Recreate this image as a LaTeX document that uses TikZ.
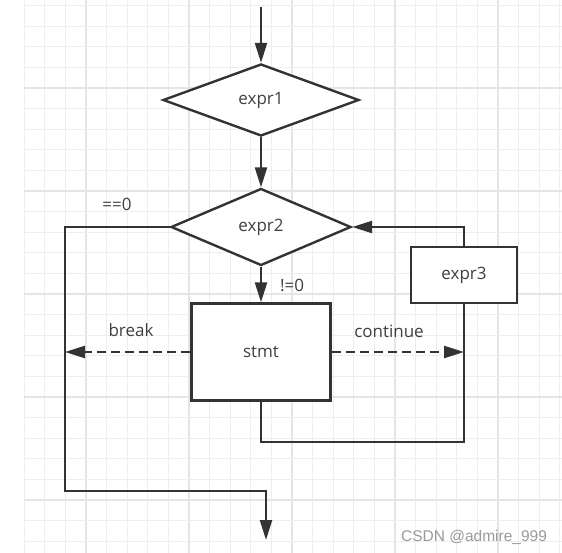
\documentclass[tikz,border=0pt]{standalone}
\usepackage{fontspec}
\setmainfont{Open Sans}
\newfontfamily\wmfont{Liberation Sans}
\usetikzlibrary{shapes.geometric,arrows.meta,calc}
\definecolor{ln}{HTML}{333333}
\definecolor{tx}{HTML}{404040}
\definecolor{gmin}{HTML}{EEEEEE}
\definecolor{gmaj}{HTML}{E5E5E5}
\definecolor{wm}{HTML}{9A9A9A}
\begin{document}
\begin{tikzpicture}[x=1pt,y=-1pt,
  txtfont/.style={font=\fontsize{17}{20}\selectfont,text=tx},
  line/.style={draw=ln,line width=2.4pt},
  conn/.style={line,-{Triangle[length=20pt,width=12pt]}},
  dashconn/.style={conn,dash pattern=on 9pt off 5pt},
  dec/.style={diamond,draw=ln,line width=2.4pt,inner sep=0pt,fill=white,txtfont},
  box/.style={rectangle,draw=ln,line width=2.4pt,inner sep=0pt,fill=white,txtfont},
  lbl/.style={inner sep=0pt,txtfont},
  gridmin/.style={draw=gmin,line width=1pt},
  gridmaj/.style={draw=gmaj,line width=1.2pt}
]
\useasboundingbox (0,0) rectangle (562,553);
\fill[white] (0,0) rectangle (562,553);
% grid
\begin{scope}
\clip (24,0) rectangle (562,553);
\foreach \k in {-3,...,23}{
  \pgfmathsetmacro{\xx}{86+20.6*\k}
  \pgfmathtruncatemacro{\mm}{mod(\k+100,5)}
  \ifnum\mm=0
    \draw[gridmaj] (\xx,0) -- (\xx,553);
  \else
    \draw[gridmin] (\xx,0) -- (\xx,553);
  \fi
}
\foreach \k in {-4,...,22}{
  \pgfmathsetmacro{\yy}{88+20.6*\k}
  \pgfmathtruncatemacro{\mm}{mod(\k+100,5)}
  \ifnum\mm=0
    \draw[gridmaj] (24,\yy) -- (562,\yy);
  \else
    \draw[gridmin] (24,\yy) -- (562,\yy);
  \fi
}
\end{scope}
% nodes
\node[dec,minimum width=196pt,minimum height=72pt] (e1) at (261,100) {expr1};
\node[dec,minimum width=180pt,minimum height=77pt] (e2) at (261,227) {expr2};
\node[box,minimum width=139pt,minimum height=97pt] (st) at (261,352) {stmt};
\node[box,minimum width=106pt,minimum height=56pt] (e3) at (464,275) {expr3};
% coordinates
\coordinate (top) at (261,7);
\coordinate (c1) at (65,491);
\coordinate (out) at (266,540);
\coordinate (bl) at (65,352);
\coordinate (cr) at (464,352);
\coordinate (b1) at (464,442);
% connectors
\draw[conn] (top) -- (e1.north);
\draw[conn] (e1.south) -- (e2.north);
\draw[conn] (e2.south) -- (st.north);
\draw[conn] (e2.west) -| (c1) -| (out);
\draw[dashconn] (st.west) -- (bl);
\draw[dashconn] (st.east) -- (cr);
\draw[line] (st.south) |- (b1) -- (e3.south);
\draw[conn] (e3.north) |- (e2.east);
% labels
\node[lbl] (l1) at (117,204) {==0};
\node[lbl] (l2) at (292,285) {!=0};
\node[lbl] (l3) at (131,330) {break};
\node[lbl] (l4) at (389,331) {continue};
\node[inner sep=0pt,font=\wmfont\fontsize{15.5}{18}\selectfont,text=wm] (wmk) at (474,537) {CSDN @admire\_999};
\end{tikzpicture}
\end{document}
